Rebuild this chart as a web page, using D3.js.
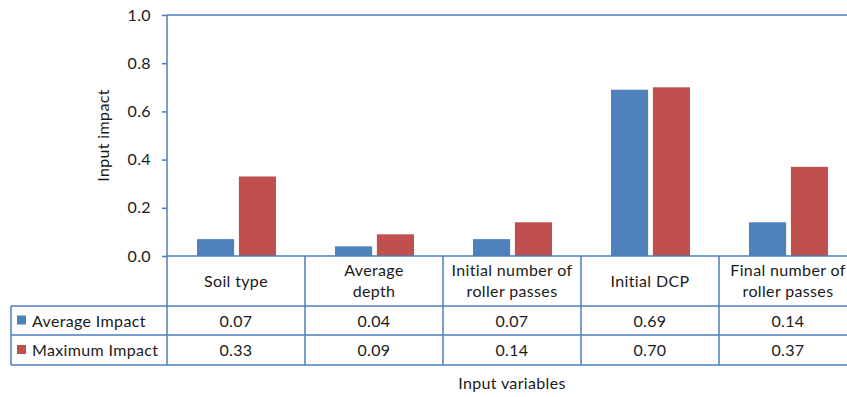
<!DOCTYPE html>
<html>
<head>
<meta charset="utf-8">
<script src="https://cdn.jsdelivr.net/npm/d3@7/dist/d3.min.js"></script>
<style>
  html, body { margin: 0; padding: 0; background: #fff; overflow: hidden; }
  svg { display: block; }
  text { font-family: Lato, "Open Sans", sans-serif; fill: #1a1a1a; letter-spacing: 0.35px; }
</style>
</head>
<body>
<svg id="chart" width="847" height="397"></svg>
<script>
// Input variables (two-line header labels split on "|")
const categories = ["Soil type", "Average|depth", "Initial number of|roller passes", "Initial DCP", "Final number of|roller passes"];
const seriesNames = ["Average Impact", "Maximum Impact"];
const averageImpact = [0.07, 0.04, 0.07, 0.69, 0.14];
const maximumImpact = [0.33, 0.09, 0.14, 0.70, 0.37];
const yTicks = [0.0, 0.2, 0.4, 0.6, 0.8, 1.0];
const colors = ["#4F81BD", "#C0504D"];
const series = [averageImpact, maximumImpact];

const svg = d3.select("#chart");
const lineColor = "#4A7EBB";
const fontSize = 16;

const plotLeft = 167, colWidth = 138;
const plotRight = plotLeft + colWidth * categories.length;
const plotTop = 15, plotBottom = 256;
const headerBottom = 306, row1Bottom = 335, row2Bottom = 365;
const tableLeft = 11;

const x = d3.scaleBand().domain(categories).range([plotLeft, plotRight]).paddingInner(0).paddingOuter(0);
const xSub = d3.scaleBand().domain(seriesNames).range([30, colWidth - 29]).paddingInner(9 / 79);
const y = d3.scaleLinear().domain([0, 1]).range([plotBottom, plotTop]);

// Bars
series.forEach((vals, si) => {
  svg.append("g").selectAll("rect").data(categories).join("rect")
    .attr("x", c => x(c) + xSub(seriesNames[si]))
    .attr("width", xSub.bandwidth())
    .attr("y", (c, i) => y(vals[i]))
    .attr("height", (c, i) => y(0) - y(vals[i]))
    .attr("fill", colors[si]);
});

// Y axis
const yAxis = d3.axisLeft(y).tickValues(yTicks).tickFormat(d3.format(".1f")).tickSize(5).tickPadding(11);
const ya = svg.append("g").attr("transform", `translate(${plotLeft},0)`).call(yAxis);
ya.select(".domain").remove();
ya.selectAll(".tick line").attr("stroke", lineColor).attr("stroke-width", 1.5);
ya.selectAll(".tick text").attr("font-size", fontSize).style("font-family", "Lato, sans-serif").attr("fill", "#1a1a1a");

// Axis line running down through the table
svg.append("line").attr("x1", plotLeft).attr("x2", plotLeft).attr("y1", plotTop).attr("y2", row2Bottom)
  .attr("stroke", lineColor).attr("stroke-width", 1.5);
// Top border and baseline
[plotTop, plotBottom].forEach(yy => svg.append("line").attr("x1", plotLeft).attr("x2", plotRight)
  .attr("y1", yy).attr("y2", yy).attr("stroke", lineColor).attr("stroke-width", 1.5));

// Y axis title
svg.append("text").attr("transform", `translate(109,${(plotTop + plotBottom) / 2}) rotate(-90)`)
  .attr("text-anchor", "middle").attr("font-size", fontSize).text("Input impact");

// Data table grid
const grid = svg.append("g").attr("stroke", lineColor).attr("stroke-width", 1.5);
[headerBottom, row1Bottom, row2Bottom].forEach(yy => grid.append("line")
  .attr("x1", tableLeft).attr("x2", plotRight).attr("y1", yy).attr("y2", yy));
grid.append("line").attr("x1", tableLeft).attr("x2", tableLeft).attr("y1", headerBottom).attr("y2", row2Bottom);
categories.forEach(c => grid.append("line").attr("x1", x(c) + colWidth).attr("x2", x(c) + colWidth)
  .attr("y1", plotBottom).attr("y2", row2Bottom));

// Header labels
categories.forEach(c => {
  const lines = c.split("|");
  const cx = x(c) + colWidth / 2;
  const t = svg.append("text").attr("text-anchor", "middle").attr("font-size", fontSize);
  if (lines.length === 1) {
    t.attr("x", cx).attr("y", 287).text(lines[0]);
  } else {
    lines.forEach((l, i) => t.append("tspan").attr("x", cx).attr("y", 276 + i * 21).text(l));
  }
});

// Value rows with legend keys
const rowTops = [headerBottom, row1Bottom];
series.forEach((vals, si) => {
  const top = rowTops[si];
  const mid = top + (si === 0 ? row1Bottom - headerBottom : row2Bottom - row1Bottom) / 2;
  svg.append("rect").attr("x", 17).attr("y", mid - 5).attr("width", 9).attr("height", 9).attr("fill", colors[si]);
  svg.append("text").attr("x", 32).attr("y", mid + 6).attr("font-size", fontSize).text(seriesNames[si]);
  categories.forEach((c, i) => svg.append("text").attr("x", x(c) + colWidth / 2).attr("y", mid + 6)
    .attr("text-anchor", "middle").attr("font-size", fontSize).text(d3.format(".2f")(vals[i])));
});

// X axis title
svg.append("text").attr("x", (plotLeft + plotRight) / 2).attr("y", 389).attr("text-anchor", "middle")
  .attr("font-size", fontSize).text("Input variables");
</script>
</body>
</html>
